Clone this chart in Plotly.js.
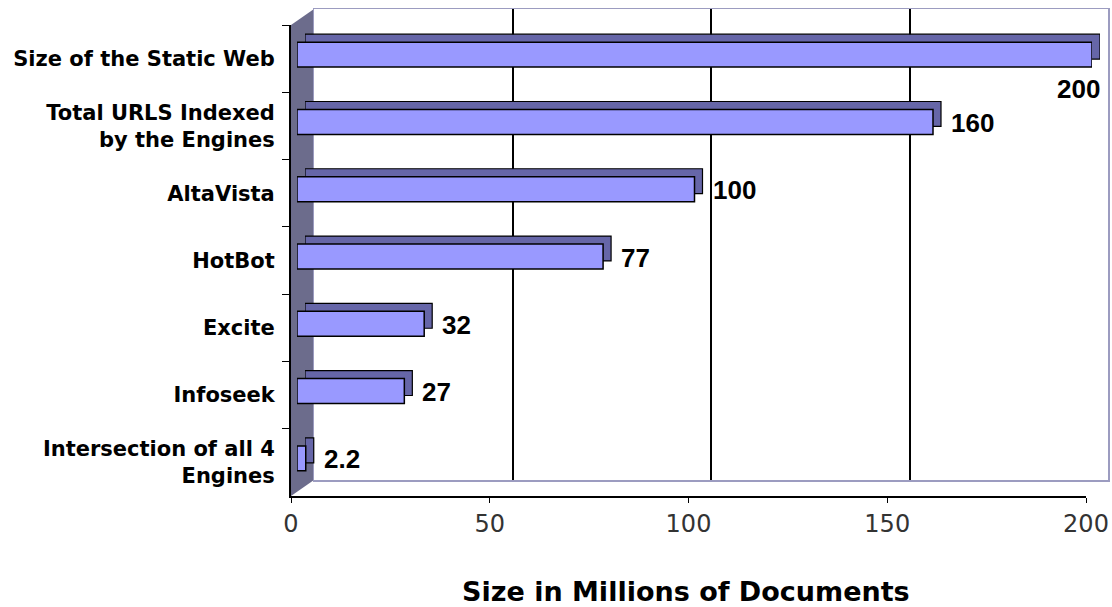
<!DOCTYPE html>
<html>
<head>
<meta charset="utf-8">
<script src="https://cdn.plot.ly/plotly-3.0.1.min.js"></script>
<style>html,body{margin:0;padding:0;background:#fff;}#chart{width:1112px;height:607px;}</style>
</head>
<body>
<div id="chart"></div>
<script>
// ---- data ----
var categories = [
  'Size of the Static Web',
  'Total URLS Indexed<br>by the Engines',
  'AltaVista',
  'HotBot',
  'Excite',
  'Infoseek',
  'Intersection of all 4<br>Engines'
];
var values = [200, 160, 100, 77, 32, 27, 2.2];
var valueLabels = ['200', '160', '100', '77', '32', '27', '2.2'];
var xTicks = [0, 50, 100, 150, 200];
var xTitle = 'Size in Millions of Documents';

// ---- geometry helpers (pixel -> paper) ----
var L = 291, R = 1108, T = 9, B = 496;
var PW = R - L, PH = B - T;
function px(x){ return (x - L) / PW; }
function py(y){ return (B - y) / PH; }

var yRange = [categories.length - 0.5, -0.5];
var barW = 0.37;

function catAxis(extra){
  var a = {range: yRange, type: 'category', categoryorder: 'array', categoryarray: categories,
           fixedrange: true};
  for (var k in extra) a[k] = extra[k];
  return a;
}

var frontAxisTrace = {
  type: 'scatter', mode: 'markers', x: values, y: categories,
  xaxis: 'x', yaxis: 'y', marker: {opacity: 0}, hoverinfo: 'skip', showlegend: false
};
var backAxisTrace = {
  type: 'scatter', mode: 'markers', x: values, y: categories,
  xaxis: 'x2', yaxis: 'y2', marker: {opacity: 0}, hoverinfo: 'skip', showlegend: false
};
// depth (top / right) faces of bars
var backBars = {
  type: 'bar', orientation: 'h', x: values, y: categories,
  xaxis: 'x3', yaxis: 'y3', width: barW,
  marker: {color: '#6666A8', line: {color: '#000', width: 1.2}},
  hoverinfo: 'skip', showlegend: false
};
// front faces of bars
var frontBars = {
  type: 'bar', orientation: 'h', x: values, y: categories,
  xaxis: 'x4', yaxis: 'y4', width: barW,
  marker: {color: '#9999FF', line: {color: '#000', width: 1.5}},
  showlegend: false
};

var maxV = Math.max.apply(null, values);
var annotations = values.map(function(v, i){
  var isMax = v === maxV;
  return {
    x: v, y: categories[i], xref: 'x4', yref: 'y4',
    text: valueLabels[i], showarrow: false,
    xanchor: isMax ? 'right' : 'left',
    xshift: isMax ? 10 : 16,
    yshift: isMax ? -34 : -1,
    font: {family: 'Liberation Sans, Arial', size: 26, color: '#000', weight: 'bold'}
  };
});
annotations.push({
  text: xTitle, xref: 'paper', yref: 'paper', x: px(686), y: py(591),
  showarrow: false, xanchor: 'center', yanchor: 'middle',
  font: {family: 'DejaVu Sans, Verdana', size: 27, color: '#000', weight: 'bold'}
});

var layout = {
  width: 1112, height: 607,
  margin: {l: L, r: 1112 - R, t: T, b: 607 - B},
  paper_bgcolor: '#fff', plot_bgcolor: 'rgba(0,0,0,0)',
  showlegend: false,
  barmode: 'overlay',
  xaxis: {
    domain: [0, px(1086)], range: [0, 200], anchor: 'y',
    tickvals: xTicks, ticks: 'outside', ticklen: 5, tickcolor: '#000',
    showline: true, linecolor: '#000', linewidth: 2,
    showgrid: false, zeroline: false, fixedrange: true,
    tickfont: {family: 'DejaVu Sans, Verdana', size: 24, color: '#333'}
  },
  yaxis: catAxis({
    domain: [0, py(25)], anchor: 'x',
    ticks: 'outside', ticklen: 7, tickcolor: '#000', tickson: 'boundaries',
    showline: true, linecolor: '#000', linewidth: 2, showgrid: false,
    ticklabelstandoff: 10,
    tickfont: {family: 'DejaVu Sans, Verdana', size: 21, color: '#000', weight: 'bold'}
  }),
  xaxis2: {
    domain: [px(314), 1], range: [0, 200], anchor: 'y2',
    tickvals: xTicks, showticklabels: false, ticks: '', fixedrange: true,
    showgrid: true, gridcolor: '#000', gridwidth: 2,
    showline: true, linecolor: '#9C9CC0', linewidth: 1.5, mirror: true, zeroline: false
  },
  yaxis2: catAxis({
    domain: [py(480), 1], anchor: 'x2',
    showticklabels: false, ticks: '', showgrid: false,
    showline: true, linecolor: '#9C9CC0', linewidth: 1.5, mirror: true, side: 'right'
  }),
  xaxis3: {
    domain: [px(305), px(1100)], range: [0, 200], anchor: 'y3', visible: false, fixedrange: true
  },
  yaxis3: catAxis({
    domain: [py(496 - 12), py(25 - 12)], anchor: 'x3', visible: false
  }),
  xaxis4: {
    domain: [px(297), px(1092)], range: [0, 200], anchor: 'y4', visible: false, fixedrange: true
  },
  yaxis4: catAxis({
    domain: [py(496 - 4), py(25 - 4)], anchor: 'x4', visible: false
  }),
  shapes: [
    { // left side wall
      type: 'path', xref: 'paper', yref: 'paper', layer: 'below',
      path: 'M ' + px(291) + ' ' + py(496) + ' L ' + px(291) + ' ' + py(25) +
            ' L ' + px(314) + ' ' + py(9) + ' L ' + px(314) + ' ' + py(480) + ' Z',
      fillcolor: '#6C6C8C', line: {width: 0}
    }
  ],
  annotations: annotations
};

Plotly.newPlot('chart', [frontAxisTrace, backAxisTrace, backBars, frontBars], layout, {displayModeBar: false, staticPlot: true});
</script>
</body>
</html>
